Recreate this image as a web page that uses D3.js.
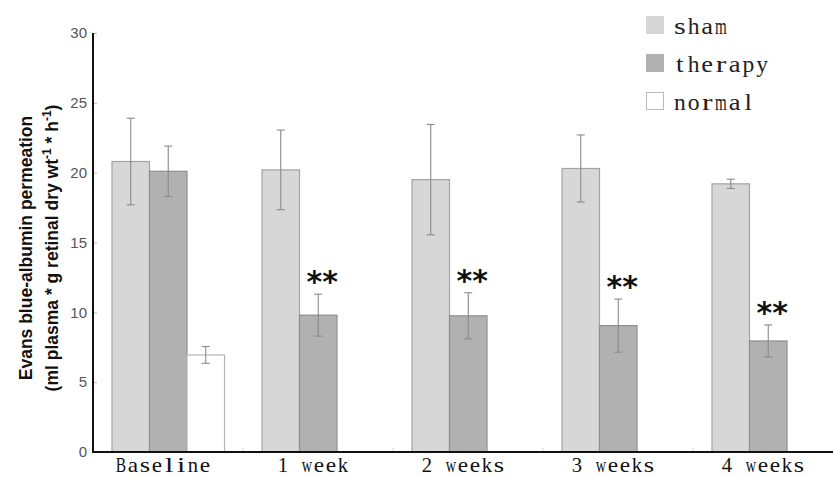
<!DOCTYPE html>
<html><head><meta charset="utf-8">
<script src="https://cdn.jsdelivr.net/npm/d3@7/dist/d3.min.js"></script>
<style>body{margin:0;background:#fff}</style>
</head><body><svg id="c" width="833" height="477"></svg>
<script>
const categories = ["Baseline","1 week","2 weeks","3 weeks","4 weeks"];
const series = ["sham","therapy","normal"];
const shamVals = [20.8,20.2,19.5,20.3,19.2];
const shamErr = [3.1,2.85,3.95,2.4,0.33];
const therapyVals = [20.1,9.8,9.75,9.05,7.95];
const therapyErr = [1.8,1.5,1.65,1.9,1.15];
const normalVals = [6.95,null,null,null,null];
const normalErr = [0.6,null,null,null,null];
const significance = ["","**","**","**","**"];
const yTicks = [0,5,10,15,20,25,30];

const fills = {sham:"#d7d7d7", therapy:"#b1b1b1", normal:"#ffffff"};
const strokes = {sham:"#a3a3a3", therapy:"#8f8f8f", normal:"#b5b5b5"};
const vals = {sham:shamVals, therapy:therapyVals, normal:normalVals};
const errs = {sham:shamErr, therapy:therapyErr, normal:normalErr};

const svg = d3.select("#c");
const x0 = 93, y0 = 452, yTop = 33;
const x = d3.scaleBand().domain(categories).range([x0, x0+750]);
const y = d3.scaleLinear().domain([0,30]).range([y0, yTop]);
const barW = 37.5, barOff = 19;
const serif = "Liberation Serif, DejaVu Serif, serif";

// monospaced-cell text (mimics half-width CJK serif font)
function monoText(sel, str, cell, size, anchor, color) {
  const total = str.length*cell;
  const start = anchor==="middle" ? -total/2 : 0;
  str.split("").forEach((ch,k)=>{
    if (ch===" ") return;
    const cx = start + (k+0.5)*cell;
    const t = sel.append("text").attr("text-anchor","middle")
      .attr("font-family",serif).attr("font-size",size).attr("fill",color).text(ch);
    const w = t.node().getComputedTextLength();
    const target = cell*0.86;
    let s = target/w;
    if (w < cell*0.5) s = Math.min(s, 1.15);
    s = Math.max(0.6, Math.min(s, 1.35));
    t.attr("transform",`translate(${cx},0) scale(${s},1)`);
  });
}

// bars
const g = svg.append("g");
categories.forEach((c,i)=>{
  series.forEach((s,j)=>{
    const v = vals[s][i];
    if (v==null) return;
    const bx = x(c)+barOff+j*barW;
    g.append("rect").attr("x",bx).attr("y",y(v)).attr("width",barW).attr("height",y(0)-y(v))
      .attr("fill",fills[s]).attr("stroke",strokes[s]).attr("stroke-width",1.2);
    const e = errs[s][i];
    const cx = bx+barW/2;
    const eg = g.append("g").attr("stroke","#8a8a8a").attr("stroke-width",1.1);
    eg.append("line").attr("x1",cx).attr("x2",cx).attr("y1",y(v+e)).attr("y2",y(v-e));
    eg.append("line").attr("x1",cx-4).attr("x2",cx+4).attr("y1",y(v+e)).attr("y2",y(v+e));
    eg.append("line").attr("x1",cx-4).attr("x2",cx+4).attr("y1",y(v-e)).attr("y2",y(v-e));
    if (s==="therapy" && significance[i]) {
      g.append("text").attr("x",cx+4).attr("y",y(v+e)-2)
        .attr("text-anchor","middle").attr("font-family","DejaVu Sans, sans-serif")
        .attr("font-weight","bold").attr("font-size",30).attr("fill","#111")
        .text(significance[i]);
    }
  });
});

// y axis
const yAxis = d3.axisRight(y).tickValues(yTicks).tickSize(4).tickFormat(d3.format("d"));
const ya = svg.append("g").attr("transform",`translate(${x0},0)`).call(yAxis);
ya.select(".domain").remove();
ya.selectAll(".tick line").attr("stroke","#bbb");
ya.selectAll(".tick text").attr("x",-6).attr("text-anchor","end")
  .attr("font-family","Liberation Sans, Arial, sans-serif").attr("font-size",15).attr("fill","#555");
svg.append("line").attr("x1",x0).attr("x2",x0).attr("y1",yTop).attr("y2",y0+1)
  .attr("stroke","#111").attr("stroke-width",2);

// x axis
const xAxis = d3.axisBottom(x).tickSize(0).tickPadding(0);
const xa = svg.append("g").attr("transform",`translate(0,${y0})`).call(xAxis);
xa.select(".domain").remove();
xa.selectAll(".tick").each(function(d){
  const tk = d3.select(this);
  tk.select("text").remove();
  const lg = tk.append("g").attr("transform","translate(-5,19.5)");
  monoText(lg, d, 12, 22, "middle", "#111");
});
// category boundary minor ticks
svg.append("g").selectAll("line").data(categories.slice(1)).join("line")
  .attr("x1",d=>x(d)).attr("x2",d=>x(d)).attr("y1",y0-4).attr("y2",y0)
  .attr("stroke","#ccc").attr("stroke-width",1);
svg.append("line").attr("x1",x0-1).attr("x2",833).attr("y1",y0).attr("y2",y0)
  .attr("stroke","#111").attr("stroke-width",2.2);

// y label
const lab = svg.append("text").attr("transform","translate(0,248) rotate(-90)")
  .attr("text-anchor","middle").attr("font-family","Liberation Sans, Arial, sans-serif")
  .attr("font-weight","bold").attr("font-size",17.5).attr("fill","#111");
lab.append("tspan").attr("x",0).attr("y",32).text("Evans blue-albumin permeation");
const l2 = lab.append("tspan").attr("x",0).attr("y",58);
l2.append("tspan").text("(ml plasma * g retinal dry wt");
l2.append("tspan").attr("font-size",12).attr("dy",-7).text("-1");
l2.append("tspan").attr("dy",7).text(" * h");
l2.append("tspan").attr("font-size",12).attr("dy",-7).text("-1");
l2.append("tspan").attr("dy",7).text(")");

// legend
const leg = svg.append("g").attr("transform","translate(646,16)");
series.forEach((s,i)=>{
  const r = leg.append("g").attr("transform",`translate(0,${i*38})`);
  r.append("rect").attr("x",0.5).attr("y",0.5).attr("width",17).attr("height",17)
    .attr("fill",fills[s]).attr("stroke",s==="normal"?"#bbb":fills[s]);
  const lt = r.append("g").attr("transform","translate(27,18)");
  monoText(lt, s, 13.7, 23.5, "start", "#222");
});
</script></body></html>
